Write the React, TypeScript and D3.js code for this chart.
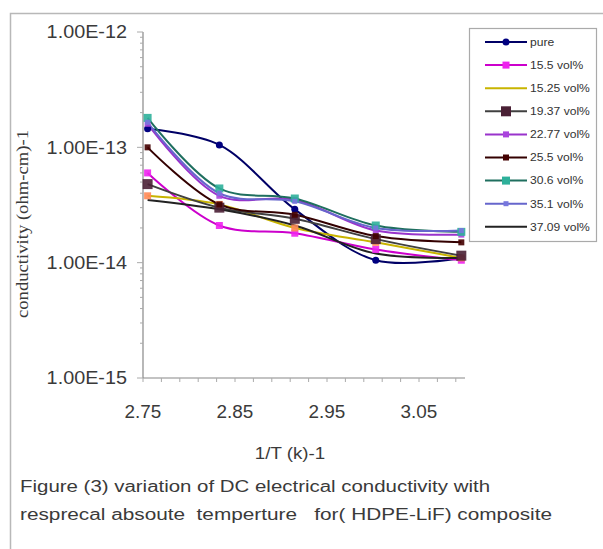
import { useEffect, useRef } from 'react'
import * as d3 from 'd3'

// 1/T values (x 10^-3 K^-1) at which conductivity was measured
const INV_T = [2.755, 2.833, 2.915, 3.003, 3.096]

const LABELS = ['pure', '15.5 vol%', '15.25 vol%', '19.37 vol%', '22.77 vol%', '25.5 vol%', '30.6 vol%', '35.1 vol%', '37.09 vol%']

const PURE = [1.45e-13, 1.05e-13, 2.9e-14, 1.05e-14, 1.1e-14]
const V15_5 = [6.0e-14, 2.1e-14, 1.8e-14, 1.3e-14, 1.05e-14]
const V15_25 = [3.8e-14, 3.2e-14, 2.0e-14, 1.5e-14, 1.1e-14]
const V19_37 = [4.8e-14, 3.0e-14, 2.4e-14, 1.6e-14, 1.15e-14]
const V22_77 = [1.6e-13, 3.8e-14, 3.5e-14, 1.9e-14, 1.75e-14]
const V25_5 = [1.0e-13, 3.2e-14, 2.6e-14, 1.7e-14, 1.5e-14]
const V30_6 = [1.8e-13, 4.4e-14, 3.6e-14, 2.1e-14, 1.85e-14]
const V35_1 = [1.65e-13, 4.0e-14, 3.4e-14, 2.0e-14, 1.9e-14]
const V37_09 = [3.5e-14, 2.9e-14, 2.1e-14, 1.2e-14, 1.1e-14]

const SERIES = [PURE, V15_5, V15_25, V19_37, V22_77, V25_5, V30_6, V35_1, V37_09]

const LINE_COLORS = ['#000066', '#cc00cc', '#c8b400', '#404040', '#9933cc', '#330000', '#1f6f5f', '#6666cc', '#222222']
const MARK_COLORS = ['#000080', '#ee22ee', '#ff8855', '#4a2035', '#aa44dd', '#440000', '#2eb09a', '#7777dd', null]
const MARK_SIZES = [7, 7, 7, 10, 6, 6, 8, 5, 0]

const Y_TICKS = [1e-12, 1e-13, 1e-14, 1e-15]
const X_TICK_LABELS = [2.75, 2.85, 2.95, 3.05]

const FONT = 'Liberation Sans, Arial, sans-serif'

// the scanned figure is a bit wider than real Arial, so widen glyphs a little
function widen(sel: any, k: number) {
  sel.each(function (this: SVGTextElement) {
    const w = this.getComputedTextLength()
    d3.select(this).attr('textLength', w * k).attr('lengthAdjust', 'spacingAndGlyphs')
  })
}

export default function App() {
  const ref = useRef<SVGSVGElement>(null)

  useEffect(() => {
    const svg = d3.select(ref.current)
    svg.selectAll('*').remove()

    const W = 603, H = 549
    const L = 143, R = 465, T = 32, B = 378

    const x = d3.scaleLinear().domain([2.75, 3.1]).range([L, R])
    const y = d3.scaleLog().domain([1e-15, 1e-12]).range([B, T])

    svg.append('rect').attr('width', W).attr('height', H).attr('fill', '#fff')
    // outer frame (runs off the right / bottom edge)
    svg.append('rect')
      .attr('x', 10.5).attr('y', 13.5).attr('width', 640).attr('height', 600)
      .attr('fill', 'none').attr('stroke', '#b8b8b8').attr('stroke-width', 1.5)

    // y axis
    svg.append('line').attr('x1', L).attr('x2', L).attr('y1', T).attr('y2', B)
      .attr('stroke', '#888').attr('stroke-width', 1.2)
    for (let e = -15; e < -12; e++) {
      for (let m = 1; m < 10; m++) {
        const v = m * Math.pow(10, e)
        svg.append('line')
          .attr('x1', L - (m === 1 ? 6 : 3)).attr('x2', L)
          .attr('y1', y(v)).attr('y2', y(v))
          .attr('stroke', '#aaa').attr('stroke-width', 1)
      }
    }
    svg.append('line').attr('x1', L - 6).attr('x2', L).attr('y1', T).attr('y2', T).attr('stroke', '#aaa')
    Y_TICKS.forEach(v => {
      const t = svg.append('text')
        .attr('x', 127).attr('y', y(v)).attr('dy', '0.35em')
        .attr('text-anchor', 'end')
        .attr('font-family', FONT).attr('font-size', 18).attr('fill', '#3a3a3a')
        .text(d3.format('.2e')(v).replace('e', 'E').toUpperCase().replace(/E-(\d)$/, 'E-0$1'))
      widen(t, 1.1)
    })

    // x axis
    svg.append('line').attr('x1', L).attr('x2', R).attr('y1', B).attr('y2', B)
      .attr('stroke', '#888').attr('stroke-width', 1.2)
    d3.range(0, 18).forEach(i => {
      const v = 2.75 + i * 0.02
      if (v > 3.1001) return
      svg.append('line').attr('x1', x(v)).attr('x2', x(v)).attr('y1', B).attr('y2', B + 4)
        .attr('stroke', '#aaa')
    })
    X_TICK_LABELS.forEach(v => {
      const t = svg.append('text')
        .attr('x', x(v)).attr('y', 418)
        .attr('text-anchor', 'middle')
        .attr('font-family', FONT).attr('font-size', 18).attr('fill', '#3a3a3a')
        .text(v.toFixed(2))
      widen(t, 1.05)
    })

    // axis titles
    const xt = svg.append('text')
      .attr('x', 290).attr('y', 459).attr('text-anchor', 'middle')
      .attr('font-family', FONT).attr('font-size', 16).attr('fill', '#3a3a3a')
      .text('1/T (k)-1')
    widen(xt, 1.17)
    const yt = svg.append('text')
      .attr('transform', 'translate(28,224) rotate(-90)')
      .attr('text-anchor', 'middle')
      .attr('font-family', 'Liberation Serif, serif').attr('font-size', 17).attr('fill', '#3a3a3a')
      .text('conductivity (ohm-cm)-1')
    yt.attr('textLength', 188).attr('lengthAdjust', 'spacingAndGlyphs')

    // series
    const line = d3.line<number>()
      .x((d, i) => x(INV_T[i]))
      .y(d => y(d))
      .curve(d3.curveCatmullRom.alpha(0.5))

    SERIES.forEach((vals, si) => {
      svg.append('path').datum(vals)
        .attr('d', line)
        .attr('fill', 'none')
        .attr('stroke', LINE_COLORS[si])
        .attr('stroke-width', 2)
    })
    SERIES.forEach((vals, si) => {
      const c = MARK_COLORS[si]
      if (!c) return
      const s = MARK_SIZES[si]
      vals.forEach((v, i) => {
        if (si === 0) {
          svg.append('circle').attr('cx', x(INV_T[i])).attr('cy', y(v)).attr('r', s / 2)
            .attr('fill', c)
        } else {
          svg.append('rect')
            .attr('x', x(INV_T[i]) - s / 2).attr('y', y(v) - s / 2)
            .attr('width', s).attr('height', s)
            .attr('fill', c).attr('opacity', 0.9)
        }
      })
    })

    // legend
    const lg = svg.append('g')
    lg.append('rect')
      .attr('x', 469.5).attr('y', 28.5).attr('width', 127).attr('height', 213)
      .attr('fill', '#fff').attr('stroke', '#aaa').attr('stroke-width', 1.2)
    LABELS.forEach((lab, i) => {
      const ly = 42 + i * 23.1
      lg.append('line').attr('x1', 485).attr('x2', 527).attr('y1', ly).attr('y2', ly)
        .attr('stroke', LINE_COLORS[i]).attr('stroke-width', 2)
      const c = MARK_COLORS[i]
      if (c && i !== 2) {
        const s = MARK_SIZES[i]
        if (i === 0) {
          lg.append('circle').attr('cx', 506).attr('cy', ly).attr('r', s / 2).attr('fill', c)
        } else {
          lg.append('rect').attr('x', 506 - s / 2).attr('y', ly - s / 2)
            .attr('width', s).attr('height', s).attr('fill', c)
        }
      }
      const t = lg.append('text')
        .attr('x', 530).attr('y', ly).attr('dy', '0.35em')
        .attr('font-family', FONT).attr('font-size', 11).attr('fill', '#333')
        .text(lab)
      widen(t, 1.1)
    })

    // caption
    svg.append('text')
      .attr('x', 20).attr('y', 492)
      .attr('font-family', FONT).attr('font-size', 16).attr('fill', '#3a3a3a')
      .attr('textLength', 470).attr('lengthAdjust', 'spacingAndGlyphs')
      .text('Figure (3) variation of DC electrical conductivity with')
    svg.append('text')
      .attr('x', 20).attr('y', 520)
      .attr('font-family', FONT).attr('font-size', 16).attr('fill', '#3a3a3a')
      .attr('textLength', 532).attr('lengthAdjust', 'spacingAndGlyphs')
      .style('white-space', 'pre')
      .text('resprecal absoute  temperture   for( HDPE-LiF) composite')
  }, [])

  return (
    <svg ref={ref} width={603} height={549}
      style={{ position: 'absolute', left: 0, top: 0, display: 'block' }} />
  )
}
